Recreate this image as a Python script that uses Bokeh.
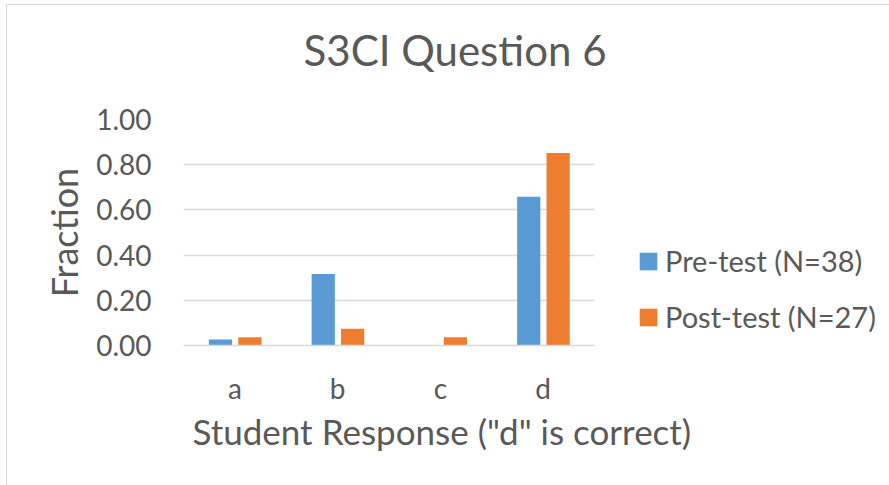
from bokeh.plotting import figure
from bokeh.models import (FactorRange, Range1d, Legend, LegendItem, Title,
                          ColumnDataSource, FixedTicker, NumeralTickFormatter)
from bokeh.transform import dodge
from bokeh.embed import file_html
from bokeh.resources import INLINE

# ---- data ----
categories = ["a", "b", "c", "d"]
pre_test = [0.026, 0.316, 0.0, 0.658]
post_test = [0.037, 0.074, 0.037, 0.852]
y_ticks = [0.0, 0.2, 0.4, 0.6, 0.8, 1.0]
series_names = ["Pre-test (N=38)", "Post-test (N=27)"]
title_text = "S3CI Question 6"
x_title = 'Student Response ("d" is correct)'
y_title = "Fraction"

FONT = "Lato"
TEXT = "#595959"
GRID = "#D9D9D9"
BLUE = "#5B9BD5"
ORANGE = "#ED7D31"

src = ColumnDataSource(dict(cat=categories, pre=pre_test, post=post_test))

p = figure(x_range=FactorRange(*categories, range_padding=0),
           y_range=Range1d(0, 1),
           frame_width=411, frame_height=226,
           min_border_left=183, min_border_right=295,
           min_border_top=119, min_border_bottom=140,
           output_backend="svg", toolbar_location=None)
p.border_fill_alpha = 0
p.background_fill_color = "white"
p.styles = {"background": "linear-gradient(#D9D9D9,#D9D9D9) 6px 4px / 1px 100% no-repeat, "
                          "linear-gradient(#D9D9D9,#D9D9D9) 6px 4px / 100% 1px no-repeat, white"}

r1 = p.vbar(x=dodge("cat", -0.14, range=p.x_range), top="pre", width=0.226,
            source=src, fill_color=BLUE, line_color=None)
r2 = p.vbar(x=dodge("cat", 0.146, range=p.x_range), top="post", width=0.226,
            source=src, fill_color=ORANGE, line_color=None)

p.outline_line_color = None
p.xgrid.grid_line_color = None
p.ygrid.grid_line_color = GRID
p.ygrid.grid_line_width = 1.5

# y axis
p.yaxis.ticker = FixedTicker(ticks=y_ticks)
p.yaxis.formatter = NumeralTickFormatter(format="0.00")
p.yaxis.axis_line_color = None
p.yaxis.major_tick_line_color = None
p.yaxis.minor_tick_line_color = None
p.yaxis.major_tick_out = 0
p.yaxis.major_tick_in = 0
p.yaxis.major_label_standoff = 32
p.yaxis.major_label_text_font = FONT
p.yaxis.major_label_text_font_size = "28px"
p.yaxis.major_label_text_color = TEXT
p.yaxis.axis_label = y_title
p.yaxis.axis_label_text_font = FONT
p.yaxis.axis_label_text_font_size = "36px"
p.yaxis.axis_label_text_font_style = "normal"
p.yaxis.axis_label_text_color = TEXT
p.yaxis.axis_label_standoff = 7

# x axis
p.xaxis.axis_line_color = GRID
p.xaxis.axis_line_width = 1.5
p.xaxis.major_tick_line_color = None
p.xaxis.minor_tick_line_color = None
p.xaxis.major_tick_out = 0
p.xaxis.major_tick_in = 0
p.xaxis.major_label_standoff = 25
p.xaxis.major_label_text_font = FONT
p.xaxis.major_label_text_font_size = "28px"
p.xaxis.major_label_text_color = TEXT

# titles (spacer first = closest to the frame)
p.add_layout(Title(text=" ", text_font_size="1px", standoff=42), "above")
p.add_layout(Title(text=title_text, align="left", offset=120, text_font=FONT,
                   text_font_size="42px", text_font_style="normal",
                   text_color=TEXT, standoff=0), "above")

p.add_layout(Title(text=x_title, align="left", offset=9, text_font=FONT,
                   text_font_size="35px", text_font_style="normal",
                   text_color=TEXT, standoff=0), "below")

legend = Legend(items=[LegendItem(label=series_names[0], renderers=[r1]),
                       LegendItem(label=series_names[1], renderers=[r2])],
                location=(43, 11), orientation="vertical",
                glyph_width=22, glyph_height=22, label_standoff=6,
                spacing=21, padding=0, margin=0,
                border_line_color=None, background_fill_alpha=0,
                label_text_font=FONT, label_text_font_size="29px",
                label_text_color=TEXT)
p.add_layout(legend, "right")

open("out.html", "w").write(file_html(p, INLINE))
